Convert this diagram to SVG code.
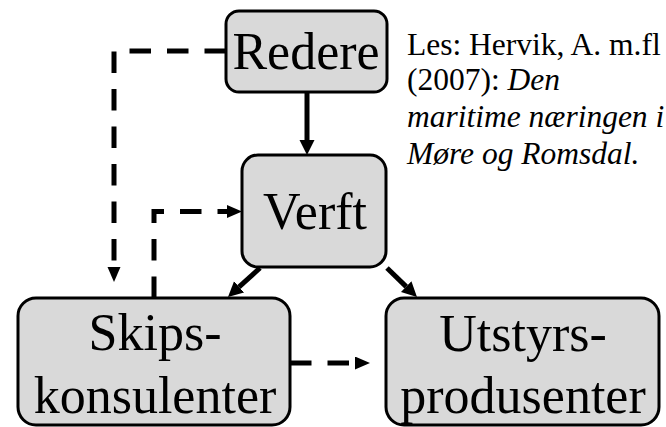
<svg xmlns="http://www.w3.org/2000/svg" width="666" height="427" viewBox="0 0 666 427">
<style>
.box{fill:#d9d9d9;stroke:#000;stroke-width:3}
.lbl{font-family:"Liberation Serif","Times New Roman",serif;font-size:52px;fill:#000;text-anchor:middle}
.solid{stroke:#000;stroke-width:5;fill:none}
.dash{stroke:#000;stroke-width:5;fill:none;stroke-dasharray:21.5 16}
.ref{font-family:"Liberation Serif","Times New Roman",serif;font-size:31.5px;fill:#000}
</style>
<defs>
<marker id="ah" markerUnits="userSpaceOnUse" markerWidth="16" markerHeight="16" refX="0" refY="7.5" orient="auto">
<path d="M0,0 L15,7.5 L0,15 z" fill="#000"/>
</marker>
<marker id="ahs" markerUnits="userSpaceOnUse" markerWidth="16" markerHeight="14" refX="0" refY="6.5" orient="auto">
<path d="M0,0 L15,6.5 L0,13 z" fill="#000"/>
</marker>
</defs>
<g id="connectors">
<line class="solid" x1="307" y1="92" x2="307" y2="140" marker-end="url(#ah)"/>
<line class="solid" x1="260" y1="268" x2="239.1" y2="286.9" marker-end="url(#ah)"/>
<line class="solid" x1="387" y1="268" x2="406.2" y2="286.6" marker-end="url(#ah)"/>
<path class="dash" d="M226,51 H114 V267" marker-end="url(#ahs)"/>
<path class="dash" d="M154,298 V211.5 H227" marker-end="url(#ahs)"/>
<path class="dash" d="M290,363 H355" marker-end="url(#ahs)"/>
</g>
<g id="redere">
<rect class="box" x="226" y="11" width="161" height="81" rx="13"/>
<text class="lbl" x="306" y="69">Redere</text>
</g>
<g id="verft">
<rect class="box" x="242" y="155" width="144" height="112" rx="16"/>
<text class="lbl" x="315" y="229">Verft</text>
</g>
<g id="skipskonsulenter">
<rect class="box" x="18" y="298" width="272" height="127" rx="18"/>
<text class="lbl" x="155" y="350">Skips-</text>
<text class="lbl" x="155" y="413">konsulenter</text>
</g>
<g id="utstyrsprodusenter">
<rect class="box" x="386" y="298" width="273" height="127" rx="18"/>
<text class="lbl" x="523" y="351">Utstyrs-</text>
<text class="lbl" x="523" y="413">produsenter</text>
</g>
<g id="reference">
<text class="ref" x="407" y="55">Les: Hervik, A. m.fl</text>
<text class="ref" x="407" y="90">(2007): <tspan font-style="italic">Den</tspan></text>
<text class="ref" x="407" y="127" font-style="italic">maritime næringen i</text>
<text class="ref" x="407" y="164" font-style="italic">Møre og Romsdal.</text>
</g>
</svg>
